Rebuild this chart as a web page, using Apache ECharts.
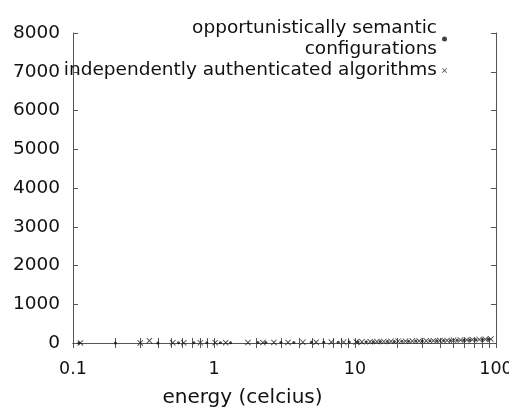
<!DOCTYPE html>
<html>
<head>
<meta charset="utf-8">
<script src="https://cdn.jsdelivr.net/npm/echarts@6/dist/echarts.min.js"></script>
<style>
html, body { margin: 0; padding: 0; background: #fff; }
#chart { width: 509px; height: 411px; }
</style>
</head>
<body>
<div id="chart"></div>
<script>
// series names
var nameA = 'opportunistically semantic configurations';
var nameB = 'independently authenticated algorithms';

// opportunistically semantic configurations
var configX = [0.11, 0.2, 0.4, 0.56, 0.72, 0.89, 1.11, 1.31, 2.05, 2.33, 2.98, 3.68, 4.9, 6.0, 7.6, 9.1,
    10.5, 12, 13.5, 15.1, 17, 19, 21.5, 24, 27, 30, 34, 38, 42.5, 47.5, 53, 59, 65, 72, 80, 88];
var configY = [1, 2, 3, 5, 4, 6, 8, 7, 10, 12, 14, 16, 18, 20, 22, 25,
    28, 30, 33, 36, 38, 40, 44, 47, 50, 52, 56, 58, 62, 66, 70, 74, 78, 82, 88, 95];

// independently authenticated algorithms
var algoX = [0.113, 0.3, 0.348, 0.51, 0.61, 0.8, 1.02, 1.21, 1.74, 2.22, 2.66, 3.35, 4.27, 5.3, 6.8, 8.3,
    10.2, 11.2, 12.8, 14.3, 16, 18, 20.2, 22.8, 25.5, 28.5, 32, 36, 40, 45, 50, 56, 62, 68, 76, 84, 92];
var algoY = [2, 3, 60, 4, 5, 6, 9, 8, 11, 12, 15, 15, 19, 21, 23, 26,
    29, 31, 34, 37, 39, 42, 45, 48, 50, 54, 57, 60, 63, 67, 71, 75, 80, 85, 90, 96, 102];

var yTicks = [0, 1000, 2000, 3000, 4000, 5000, 6000, 7000, 8000];
var xMajor = [0.1, 1, 10, 100];
var xMinor = [0.2, 0.3, 0.4, 0.5, 0.6, 0.7, 0.8, 0.9, 2, 3, 4, 5, 6, 7, 8, 9, 20, 30, 40, 50, 60, 70, 80, 90];

function pairs(xs, ys) {
    return xs.map(function (x, i) { return [x, ys[i]]; });
}

var crossPath = 'path://M0,1L1,0L5,4L9,0L10,1L6,5L10,9L9,10L5,6L1,10L0,9L4,5Z';
var axisColor = '#555';
var fontFam = '"DejaVu Sans", sans-serif';

var myChart = echarts.init(document.getElementById('chart'));
var option = {
    animation: false,
    backgroundColor: '#fff',
    grid: { left: 73, right: 13, top: 33, bottom: 68, outerBoundsMode: 'none', containLabel: false },
    legend: {
        right: 62,
        top: 18,
        padding: 0,
        orient: 'vertical',
        align: 'right',
        itemGap: 0,
        itemWidth: 5,
        itemHeight: 5,
        data: [nameA, nameB],
        formatter: function (n) {
            return n === nameA ? 'opportunistically semantic\nconfigurations' : n;
        },
        textStyle: { fontFamily: fontFam, fontSize: 18.5, color: '#111', lineHeight: 21 }
    },
    xAxis: [{
        type: 'log',
        min: 0.1,
        max: 100,
        logBase: 10,
        name: 'energy (celcius)',
        nameLocation: 'middle',
        nameGap: 45,
        nameTextStyle: { fontFamily: fontFam, fontSize: 20, color: '#111', padding: [0, 84, 0, 0] },
        axisLine: { lineStyle: { color: axisColor, width: 1 } },
        axisTick: { inside: true, length: 5, customValues: xMajor.concat(xMinor), lineStyle: { color: axisColor } },
        axisLabel: { customValues: xMajor, fontFamily: fontFam, fontSize: 17.5, color: '#111', margin: 17,
            formatter: function (v) { return String(v); } },
        splitLine: { show: false }
    }, {
        type: 'log',
        position: 'top',
        min: 0.1,
        max: 100,
        logBase: 10,
        axisLine: { lineStyle: { color: axisColor, width: 1 } },
        axisTick: { inside: true, length: 5, customValues: xMajor.concat(xMinor), lineStyle: { color: axisColor } },
        axisLabel: { show: false },
        splitLine: { show: false }
    }],
    yAxis: [{
        type: 'value',
        min: 0,
        max: 8000,
        interval: 1000,
        axisLine: { show: true, lineStyle: { color: axisColor, width: 1 } },
        axisTick: { show: true, inside: true, length: 5, lineStyle: { color: axisColor } },
        axisLabel: { fontFamily: fontFam, fontSize: 18.5, color: '#111', margin: 13,
            customValues: yTicks,
            formatter: function (v) { return String(v); } },
        splitLine: { show: false }
    }, {
        type: 'value',
        position: 'right',
        min: 0,
        max: 8000,
        interval: 1000,
        axisLine: { show: true, lineStyle: { color: axisColor, width: 1 } },
        axisTick: { show: true, inside: true, length: 5, lineStyle: { color: axisColor } },
        axisLabel: { show: false },
        splitLine: { show: false }
    }],
    series: [{
        name: nameA,
        type: 'scatter',
        symbol: 'circle',
        symbolSize: 3,
        itemStyle: { color: '#111' },
        data: pairs(configX, configY)
    }, {
        name: nameB,
        type: 'scatter',
        symbol: crossPath,
        symbolSize: 6,
        itemStyle: { color: '#111' },
        data: pairs(algoX, algoY)
    }]
};
myChart.setOption(option);
</script>
</body>
</html>
